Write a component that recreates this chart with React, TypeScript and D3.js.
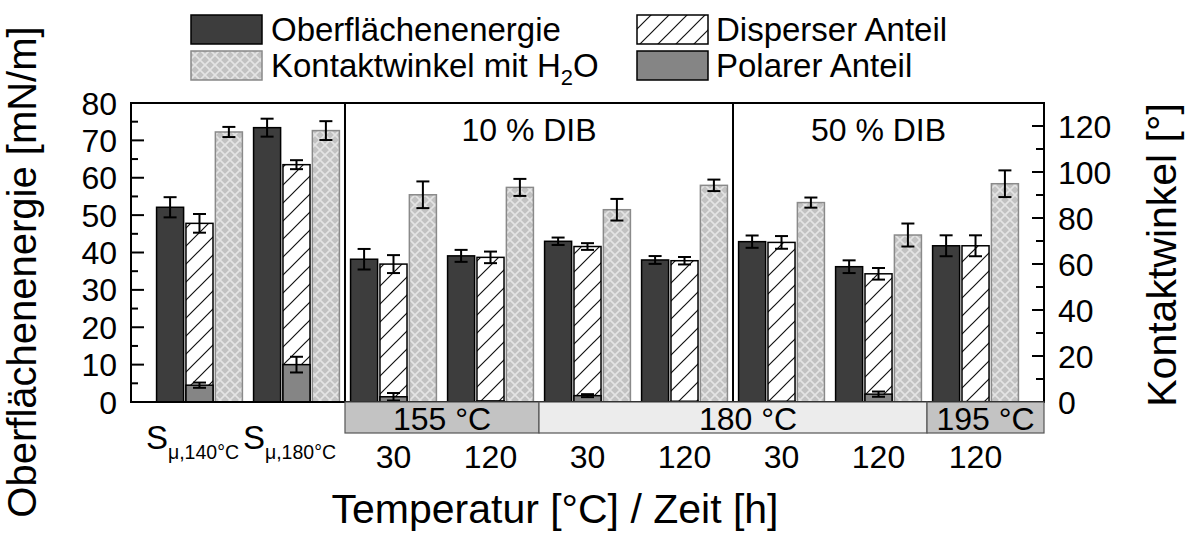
import React from 'react';
import * as d3 from 'd3';

// ---------- data ----------
const categories = ['S140', 'S180', '155-30', '155-120', '180-30', '180-120', '180-30b', '180-120b', '195-120'];
const sampleSubscripts = ['μ,140°C', 'μ,180°C'];
const timeLabels = ['', '', '30', '120', '30', '120', '30', '120', '120'];
const surfaceEnergy = [52.1, 73.4, 38.2, 39.1, 43.0, 38.0, 42.9, 36.2, 41.8];
const surfaceEnergyErr = [2.7, 2.4, 2.75, 1.6, 1.0, 1.05, 1.65, 1.7, 2.8];
const disperse = [47.8, 63.5, 36.9, 38.7, 41.6, 37.8, 42.7, 34.3, 41.8];
const disperseErr = [2.5, 1.2, 2.4, 1.55, 0.9, 1.0, 1.7, 1.55, 2.8];
const polar = [4.5, 10.0, 1.4, 0.3, 1.7, 0.2, 0.2, 2.1, 0.1];
const polarErr = [0.7, 2.1, 1.0, 0, 0.4, 0, 0, 0.7, 0];
const contactAngle = [117.4, 118.0, 90.1, 93.3, 83.6, 94.2, 86.7, 72.6, 94.9];
const contactAngleErr = [2.2, 4.1, 5.8, 3.7, 4.7, 2.5, 2.2, 5.0, 5.8];
const sectionLabels = ['10 % DIB', '50 % DIB'];
const sectionStarts = [2, 6];
const sectionEnds = [6, 9];
const tempLabels = ['155 °C', '180 °C', '195 °C'];
const tempStarts = [2, 4, 8];
const tempEnds = [4, 8, 9];
const leftTicks = [0, 10, 20, 30, 40, 50, 60, 70, 80];
const rightTicks = [0, 20, 40, 60, 80, 100, 120];

// ---------- layout ----------
const W = 1190, H = 533;
const L = 131, R = 1044, T = 103, B = 402;
const FONT = '"Liberation Sans", Arial, Helvetica, sans-serif';
const tempFills = ['#c3c3c3', '#ececec', '#c3c3c3'];

export default function App() {
  const x = d3.scaleBand<string>().domain(categories).range([L, R]).paddingInner(0).paddingOuter(0.206);
  const sub = d3.scaleBand<string>().domain(['E', 'D', 'C']).range([0, x.bandwidth()]).paddingInner(0.08).paddingOuter(0.19);
  const yL = d3.scaleLinear().domain([0, 80]).range([B, T]);
  const yR = d3.scaleLinear().domain([0, 130]).range([B, T]);
  const bw = sub.bandwidth();
  const edge = (i: number) => (i >= categories.length ? R : (x(categories[i]) as number));

  const errBar = (cx: number, y0: number, y1: number, key: string) => (
    <g key={key} stroke="#000" strokeWidth={2}>
      <line x1={cx} x2={cx} y1={y0} y2={y1} />
      <line x1={cx - 6.5} x2={cx + 6.5} y1={y0} y2={y0} />
      <line x1={cx - 6.5} x2={cx + 6.5} y1={y1} y2={y1} />
    </g>
  );

  const minorL = d3.range(0, 81, 5);
  const minorR = d3.range(0, 131, 10);

  return (
    <svg width={W} height={H} style={{ position: 'absolute', left: 0, top: 0, background: '#fff' }} fontFamily={FONT}>
      <defs>
        <pattern id="hatch" patternUnits="userSpaceOnUse" width={18} height={18}>
          <rect width={18} height={18} fill="#fff" />
          <path d="M0,18 L18,0 M-4.5,4.5 L4.5,-4.5 M13.5,22.5 L22.5,13.5" stroke="#111" strokeWidth={1.2} />
        </pattern>
        <pattern id="cross" patternUnits="userSpaceOnUse" width={10} height={10}>
          <rect width={10} height={10} fill="#c2c2c2" />
          <path d="M0,0 L10,10 M10,0 L0,10" stroke="#e4e4e4" strokeWidth={1.6} />
        </pattern>
      </defs>

      {/* legend */}
      <g fontSize={33}>
        <rect x={191} y={15} width={71} height={29} fill="#3d3d3d" stroke="#000" strokeWidth={1.5} />
        <text x={271} y={41}>Oberflächenenergie</text>
        <rect x={191} y={51} width={71} height={29} fill="url(#cross)" stroke="#888" strokeWidth={1.5} />
        <text x={271} y={77}>Kontaktwinkel mit H<tspan fontSize={22} dy={8}>2</tspan><tspan dy={-8}>O</tspan></text>
        <rect x={637} y={15} width={71} height={29} fill="url(#hatch)" stroke="#000" strokeWidth={1.5} />
        <text x={716} y={41}>Disperser Anteil</text>
        <rect x={637} y={51} width={71} height={29} fill="#858585" stroke="#000" strokeWidth={1.5} />
        <text x={716} y={77}>Polarer Anteil</text>
      </g>

      {/* bars */}
      {categories.map((c, i) => {
        const x0 = x(c) as number;
        const xe = x0 + (sub('E') as number);
        const xd = x0 + (sub('D') as number);
        const xc = x0 + (sub('C') as number);
        return (
          <g key={c}>
            <rect x={xe} y={yL(surfaceEnergy[i])} width={bw} height={B - yL(surfaceEnergy[i])} fill="#3d3d3d" stroke="#000" strokeWidth={1.5} />
            <rect x={xd} y={yL(disperse[i])} width={bw} height={B - yL(disperse[i])} fill="url(#hatch)" stroke="#000" strokeWidth={1.5} />
            <rect x={xd} y={yL(polar[i])} width={bw} height={B - yL(polar[i])} fill="#858585" stroke="#000" strokeWidth={1.5} />
            <rect x={xc} y={yR(contactAngle[i])} width={bw} height={B - yR(contactAngle[i])} fill="url(#cross)" stroke="#8a8a8a" strokeWidth={1.5} />
            {errBar(xe + bw / 2, yL(surfaceEnergy[i] + surfaceEnergyErr[i]), yL(surfaceEnergy[i] - surfaceEnergyErr[i]), 'e')}
            {errBar(xd + bw / 2, yL(disperse[i] + disperseErr[i]), yL(disperse[i] - disperseErr[i]), 'd')}
            {polarErr[i] > 0 && errBar(xd + bw / 2, yL(polar[i] + polarErr[i]), yL(Math.max(0, polar[i] - polarErr[i])), 'p')}
            {errBar(xc + bw / 2, yR(contactAngle[i] + contactAngleErr[i]), yR(contactAngle[i] - contactAngleErr[i]), 'c')}
          </g>
        );
      })}

      {/* frame + dividers */}
      <rect x={L} y={T} width={R - L} height={B - T} fill="none" stroke="#000" strokeWidth={2} />
      {sectionStarts.map((s) => (
        <line key={s} x1={edge(s)} x2={edge(s)} y1={T} y2={B} stroke="#000" strokeWidth={2} />
      ))}
      {sectionLabels.map((s, i) => (
        <text key={s} x={(edge(sectionStarts[i]) + edge(sectionEnds[i])) / 2 - 10} y={141} fontSize={32} textAnchor="middle">{s}</text>
      ))}

      {/* left ticks */}
      {minorL.map((v) => (
        <line key={'l' + v} x1={L} x2={L + (v % 10 === 0 ? 13 : 7)} y1={yL(v)} y2={yL(v)} stroke="#000" strokeWidth={2} />
      ))}
      {leftTicks.map((v) => (
        <text key={'lt' + v} x={117} y={yL(v) + 11.5} fontSize={32} textAnchor="end">{v}</text>
      ))}
      {/* right ticks */}
      {minorR.map((v) => (
        <line key={'r' + v} x1={R} x2={R - (v % 20 === 0 ? 12 : 8)} y1={yR(v)} y2={yR(v)} stroke="#000" strokeWidth={2} />
      ))}
      {rightTicks.map((v) => (
        <text key={'rt' + v} x={1058} y={yR(v) + 11.5} fontSize={32}>{v}</text>
      ))}

      {/* temperature boxes */}
      {tempLabels.map((t, i) => {
        const a = edge(tempStarts[i]);
        const b = edge(tempEnds[i]);
        return (
          <g key={t}>
            <rect x={a} y={B} width={b - a} height={31} fill={tempFills[i]} stroke="#555" strokeWidth={1.2} />
            <text x={(a + b) / 2 + (i === 1 ? 15 : 0)} y={B + 28} fontSize={32} textAnchor="middle">{t}</text>
          </g>
        );
      })}

      {/* category labels */}
      {categories.map((c, i) => {
        const cx = (x(c) as number) + x.bandwidth() / 2;
        if (i < sampleSubscripts.length) {
          return (
            <text key={'s' + c} x={cx - 7} y={449} fontSize={33} textAnchor="middle">
              S<tspan fontSize={19.5} dy={10}>{sampleSubscripts[i]}</tspan>
            </text>
          );
        }
        return (
          <text key={'t' + c} x={cx} y={468} fontSize={32} textAnchor="middle">{timeLabels[i]}</text>
        );
      })}

      {/* axis titles */}
      <text x={555} y={523} fontSize={41} textAnchor="middle">Temperatur [°C] / Zeit [h]</text>
      <text transform="translate(36,272) rotate(-90)" fontSize={40} textAnchor="middle">Oberflächenenergie [mN/m]</text>
      <text transform="translate(1176,255) rotate(-90)" fontSize={41} textAnchor="middle">Kontaktwinkel [°]</text>
    </svg>
  );
}
